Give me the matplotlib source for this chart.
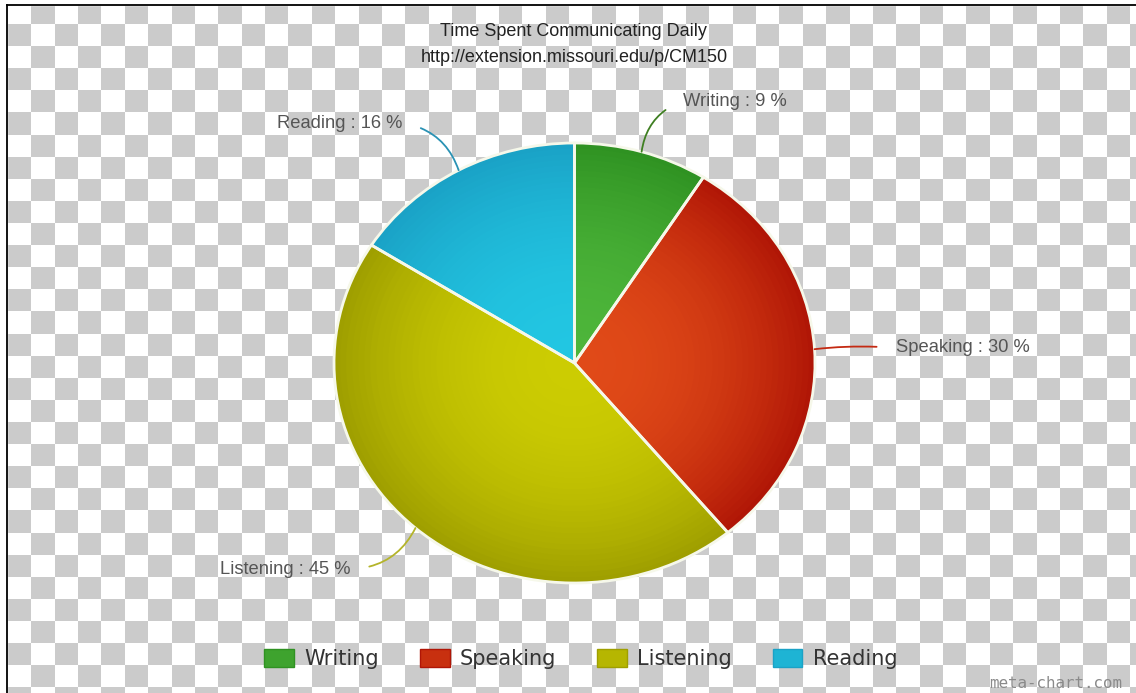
import numpy as np
import matplotlib
matplotlib.use("Agg")
import matplotlib.pyplot as plt
from matplotlib.colors import ListedColormap, to_rgb
from matplotlib.patches import Patch, Rectangle

# data
categories = ["Writing", "Speaking", "Listening", "Reading"]
shares = [9, 30, 45, 16]
title = "Time Spent Communicating Daily"
subtitle = "http://extension.missouri.edu/p/CM150"

# colours: centre of the slice -> rim of the slice
inner_cols = ["#4db53a", "#e04a18", "#cccc02", "#22c6e2"]
outer_cols = ["#2f9222", "#b01606", "#9f9f00", "#1aa2c6"]
line_cols = ["#3f7f22", "#c42a12", "#b4b42a", "#2a92b4"]

W, H = 1136, 693
fig = plt.figure(figsize=(W / 100, H / 100), dpi=100)


def px(x, y):
    # pixel position (from top left) -> figure fraction
    return x / W, 1 - y / H


# transparent-looking checkerboard background
bg = fig.add_axes([0, 0, 1, 1])
bg.set_xlim(0, W)
bg.set_ylim(H, 0)
bg.axis("off")
cw, ch = 23.38, 22.1
ncol = int(np.ceil((W - 8) / cw)) + 1
nrow = int(np.ceil(H / ch)) + 1
ii, jj = np.indices((nrow, ncol))
board = (ii + jj) % 2
bg.imshow(board, cmap=ListedColormap(["white", "#cbcbcb"]),
          extent=[8, 8 + ncol * cw, 2.2 + nrow * ch, 2.2],
          interpolation="nearest", aspect="auto")
bg.add_patch(Rectangle((0, 0), 7, H, color="white", zorder=2))
bg.add_patch(Rectangle((0, 0), W, 5, color="white", zorder=2))
bg.plot([7, 7], [5, H], color="black", lw=1.3, zorder=3)
bg.plot([7, W], [5, 5], color="black", lw=1.3, zorder=3)
bg.set_xlim(0, W)
bg.set_ylim(H, 0)

# pie (stretched a little wider than tall, like the reference)
cx, cy, rx, ry = 574.5, 363, 240.5, 220
ax = fig.add_axes([(cx - rx) / W, (H - cy - ry) / H, 2 * rx / W, 2 * ry / H])


def mix(c1, c2, t):
    a, b = np.array(to_rgb(c1)), np.array(to_rgb(c2))
    return tuple(a + (b - a) * t)


n_layers = 40
base_wedges = None
for k in range(n_layers):
    r = 1 - k / n_layers
    t = r ** 2.2
    cols = [mix(i, o, t) for i, o in zip(inner_cols, outer_cols)]
    w, _ = ax.pie(shares, radius=r, colors=cols, startangle=90,
                  counterclock=False, wedgeprops=dict(linewidth=0))
    if base_wedges is None:
        base_wedges = w

ax.pie(shares, startangle=90, counterclock=False,
       wedgeprops=dict(fill=False, edgecolor="#f6f8ea", linewidth=2))
ax.set_aspect("auto")
ax.set_xlim(-1, 1)
ax.set_ylim(-1, 1)
ax.axis("off")

# data labels with curved leader lines
label_pos = [(683, 101, "left", 0.3), (896, 348, "left", 0.05),
             (350, 569, "right", 0.3), (402, 123, "right", -0.3)]
for wdg, cat, val, lc, (lx, ly, ha, rad) in zip(base_wedges, categories,
                                                shares, line_cols, label_pos):
    mid = np.deg2rad((wdg.theta1 + wdg.theta2) / 2)
    ax.annotate(f"{cat} : {val} %", xy=(np.cos(mid), np.sin(mid)),
                xytext=px(lx, ly), textcoords="figure fraction",
                ha=ha, va="center", fontsize=13.2, color="#555555",
                family="Liberation Sans", annotation_clip=False,
                arrowprops=dict(arrowstyle="-", color=lc, lw=1.3,
                                shrinkA=12, shrinkB=0,
                                relpos=(0, 0.5) if ha == "left" else (1, 0.5),
                                connectionstyle=f"arc3,rad={rad}"))

fig.text(*px(573, 31), title, ha="center", va="center", fontsize=13,
         color="#222222", family="Liberation Sans")
fig.text(*px(574, 58), subtitle, ha="center", va="center", fontsize=13,
         color="#222222", family="Liberation Sans")

handles = [Patch(facecolor=mix(i, o, 0.5), edgecolor=o, lw=1)
           for i, o in zip(inner_cols, outer_cols)]
fig.legend(handles, categories, loc="center", bbox_to_anchor=px(581, 659),
           ncol=4, frameon=False, prop=dict(family="DejaVu Sans", size=15),
           labelcolor="#333333", handlelength=1.43, handleheight=1.0,
           handletextpad=0.5, columnspacing=1.95)

fig.text(*px(1122, 683), "meta-chart.com", ha="right", va="center",
         fontsize=11.4, color="#8a8a8a", family="DejaVu Sans Mono")

fig.savefig("out.png", dpi=100)
